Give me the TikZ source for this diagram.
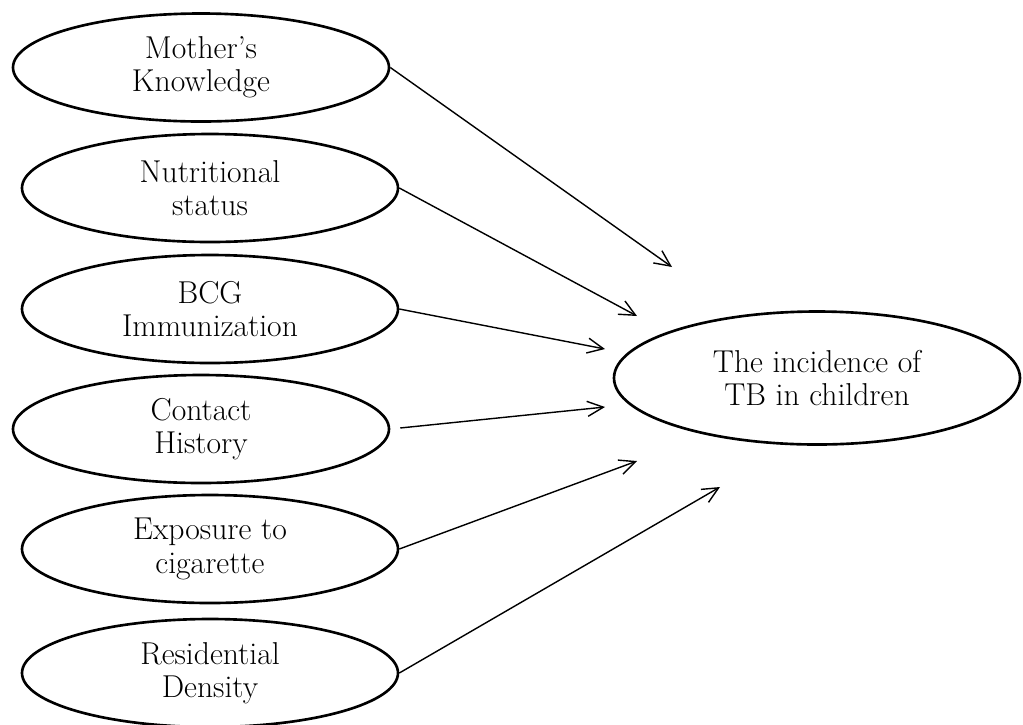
\documentclass[tikz,border=0pt]{standalone}
\usepackage{tikz}
\usetikzlibrary{positioning, arrows.meta, shapes.geometric}

\begin{document}
\begin{tikzpicture}[
    font=\fontsize{18}{19}\selectfont,
    factor/.style={ellipse, draw=black, line width=1.5pt, align=center,
                   minimum width=7.52cm, minimum height=2.16cm},
    outcome/.style={ellipse, draw=black, line width=1.5pt, align=center,
                    minimum width=8.12cm, minimum height=2.66cm},
    arrow/.style={-{Straight Barb[length=3.2mm, width=3mm]}, line width=0.8pt}
]
    \useasboundingbox (0,0) rectangle (20.46,-14.48);

    % Factors
    \node[factor] (knowledge) at (4.02, -1.35) {Mother's\\Knowledge};
    \node[factor] (nutrition) at (4.20, -3.76) {Nutritional\\status};
    \node[factor] (bcg) at (4.20, -6.18) {BCG\\Immunization};
    \node[factor] (contact) at (4.02, -8.58) {Contact\\History};
    \node[factor] (smoke) at (4.20, -10.98) {Exposure to\\cigarette};
    \node[factor] (density) at (4.20, -13.46) {Residential\\Density};

    % Outcome
    \node[outcome] (incidence) at (16.34, -7.56) {The incidence of\\TB in children};

    % Arrow tips
    \coordinate (tipA) at (13.44, -5.34);
    \coordinate (tipB) at (12.74, -6.32);
    \coordinate (tipC) at (12.10, -6.98);
    \coordinate (tipD) at (12.10, -8.14);
    \coordinate (tipE) at (12.74, -9.22);
    \coordinate (tipF) at (14.40, -9.74);

    \draw[arrow] (knowledge.east) -- (tipA);
    \draw[arrow] (nutrition.east) -- (tipB);
    \draw[arrow] (bcg.east) -- (tipC);
    \draw[arrow, shorten <=0.2cm] (contact.east) -- (tipD);
    \draw[arrow] (smoke.east) -- (tipE);
    \draw[arrow] (density.east) -- (tipF);

\end{tikzpicture}
\end{document}
